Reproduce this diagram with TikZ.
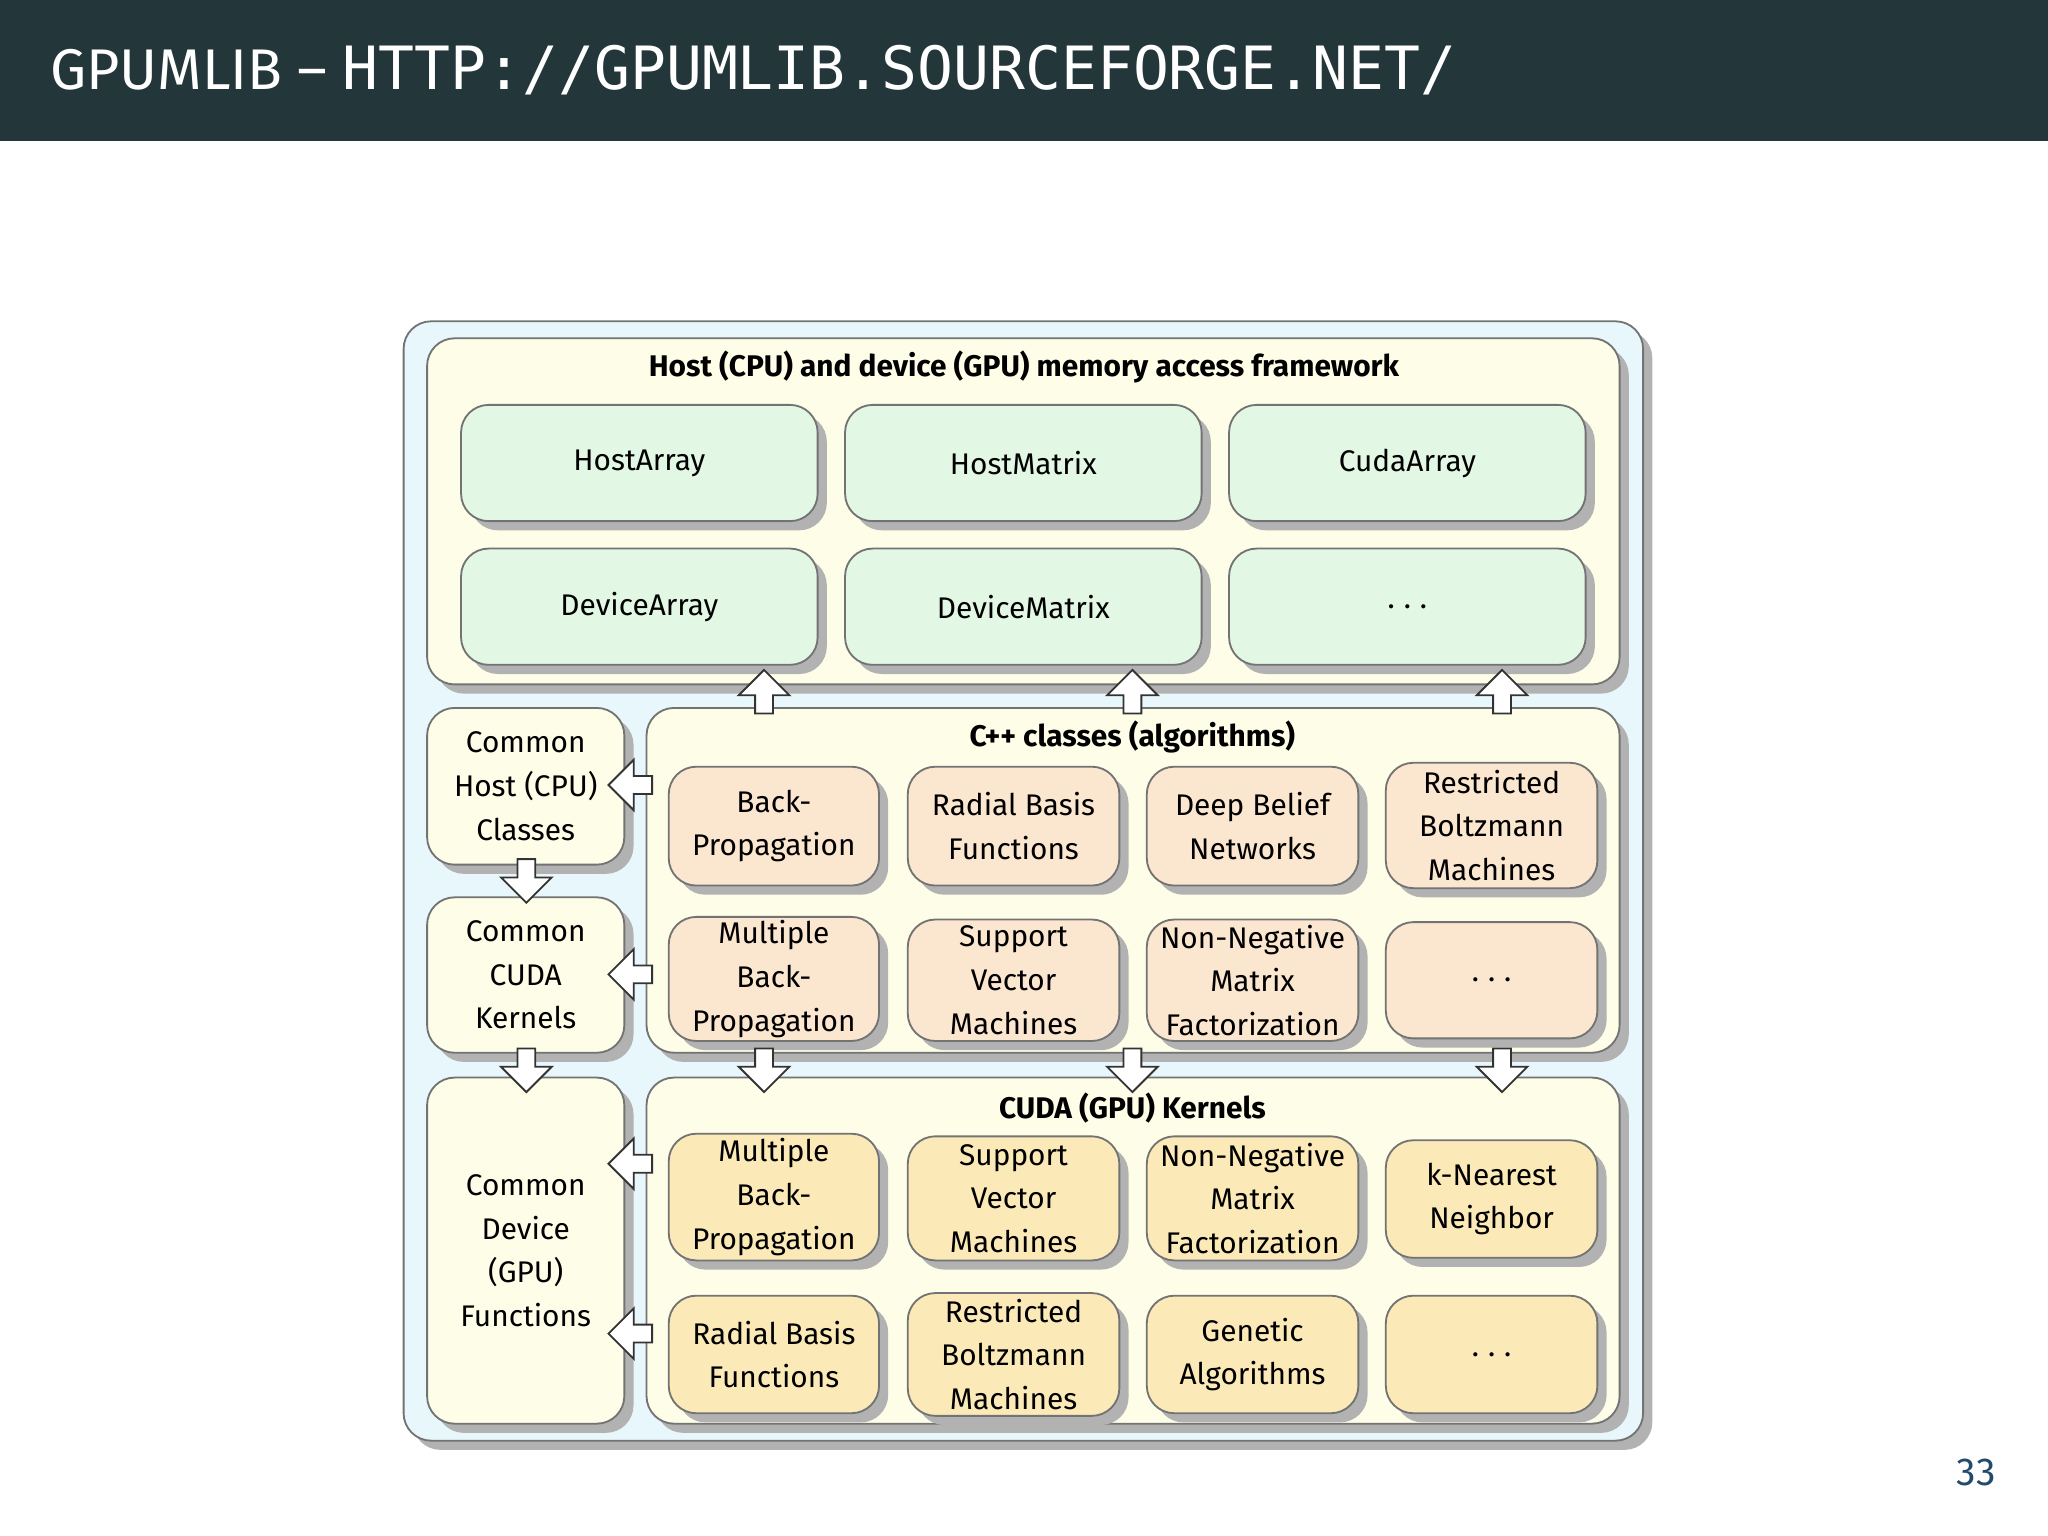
\documentclass[tikz,border=0pt]{standalone}
\usepackage{fontspec}
\setmainfont{Fira Sans}
\newfontfamily\monofont{DejaVu Sans Mono}
\usetikzlibrary{shadows,shapes.arrows}
\definecolor{hdr}{HTML}{23373B}
\definecolor{outerf}{HTML}{E8F7FB}
\definecolor{outerd}{HTML}{8AA6B3}
\definecolor{panel}{HTML}{FDFDE8}
\definecolor{grn}{HTML}{E3F8E4}
\definecolor{org}{HTML}{FBE6D0}
\definecolor{yel}{HTML}{FBEAB8}
\definecolor{pgnum}{HTML}{23496B}
\tikzset{
  box/.style={rounded corners=12pt,draw=black!55,line width=0.8pt,
    drop shadow={shadow xshift=4pt,shadow yshift=-4pt,fill=black!30,opacity=1}},
  lbl/.style={font=\fontsize{13}{19}\selectfont,align=center},
  ttl/.style={font=\fontsize{13}{16}\selectfont\bfseries},
  barrow/.style={single arrow,draw=black!80,fill=white,line width=0.8pt,
    minimum height=19pt,minimum width=20pt,inner xsep=0pt,inner ysep=3.5pt,
    text height=0pt,text depth=0pt,text width=0pt},
}
% draw a box with corners given in pixel coordinates
\newcommand{\pbox}[6]{%
  \node[box,fill=#5,minimum width={(#3-#1)*0.02cm},minimum height={(#4-#2)*0.02cm},
    lbl] (#6) at ({(#1+#3)/2},{(#2+#4)/2}) {};}
\newcommand{\dotsx}{.\hspace{0.3em}.\hspace{0.3em}.}
\begin{document}
\begin{tikzpicture}[x=0.02cm,y=-0.02cm]
\useasboundingbox (0,0) rectangle (1568,1176);
\fill[hdr] (0,0) rectangle (1568,108);
\node[anchor=west,text=white,inner sep=0] (title) at (38,54)
  {\fontsize{25}{28}\selectfont GPUMLIB -- {\monofont\fontsize{26}{28}\selectfont HTTP://GPUMLIB.SOURCEFORGE.NET/}};
\node[text=pgnum,font=\fontsize{17}{20}\selectfont] (pg) at (1513,1127) {33};

\pbox{309}{246}{1258}{1103}{outerf}{outer}
\pbox{327}{259}{1240}{524}{panel}{host}
\node[ttl] (hostt) at (784,281) {Host (CPU) and device (GPU) memory access framework};
\pbox{353}{310}{626}{399}{grn}{g1}\node[lbl] at (g1) {HostArray};
\pbox{647}{310}{920}{399}{grn}{g2}\node[lbl] at (g2) {HostMatrix};
\pbox{941}{310}{1214}{399}{grn}{g3}\node[lbl] at (g3) {CudaArray};
\pbox{353}{420}{626}{509}{grn}{g4}\node[lbl] at (g4) {DeviceArray};
\pbox{647}{420}{920}{509}{grn}{g5}\node[lbl] at (g5) {DeviceMatrix};
\pbox{941}{420}{1214}{509}{grn}{g6}\node[lbl] at (g6) {\dotsx};

\pbox{327}{542}{478}{662}{panel}{ch}\node[lbl] at (ch) {Common\\Host (CPU)\\Classes};
\pbox{327}{687}{478}{806}{panel}{ck}\node[lbl] at (ck) {Common\\CUDA\\Kernels};
\pbox{327}{825}{478}{1090}{panel}{cd}\node[lbl] at (cd) {Common\\Device\\(GPU)\\Functions};

\pbox{495}{542}{1240}{806}{panel}{cpp}
\node[ttl] (cppt) at (867,564) {C++ classes (algorithms)};
\pbox{512}{587}{673}{678}{org}{o1}\node[lbl] at (o1) {Back-\\Propagation};
\pbox{695}{587}{857}{678}{org}{o2}\node[lbl] at (o2) {Radial Basis\\Functions};
\pbox{878}{587}{1040}{678}{org}{o3}\node[lbl] at (o3) {Deep Belief\\Networks};
\pbox{1061}{584}{1223}{680}{org}{o4}\node[lbl] at (o4) {Restricted\\Boltzmann\\Machines};
\pbox{512}{702}{673}{797}{org}{o5}\node[lbl] at (o5) {Multiple\\Back-\\Propagation};
\pbox{695}{704}{857}{797}{org}{o6}\node[lbl] at (o6) {Support\\Vector\\Machines};
\pbox{878}{704}{1040}{797}{org}{o7}\node[lbl] at (o7) {Non-Negative\\Matrix\\Factorization};
\pbox{1061}{706}{1223}{795}{org}{o8}\node[lbl] at (o8) {\dotsx};

\pbox{495}{825}{1240}{1090}{panel}{cuda}
\node[ttl] (cudat) at (867,848) {CUDA (GPU) Kernels};
\pbox{512}{868}{673}{965}{yel}{y1}\node[lbl] at (y1) {Multiple\\Back-\\Propagation};
\pbox{695}{870}{857}{965}{yel}{y2}\node[lbl] at (y2) {Support\\Vector\\Machines};
\pbox{878}{870}{1040}{965}{yel}{y3}\node[lbl] at (y3) {Non-Negative\\Matrix\\Factorization};
\pbox{1061}{873}{1223}{963}{yel}{y4}\node[lbl] at (y4) {k-Nearest\\Neighbor};
\pbox{512}{992}{673}{1082}{yel}{y5}\node[lbl] at (y5) {Radial Basis\\Functions};
\pbox{695}{990}{857}{1084}{yel}{y6}\node[lbl] at (y6) {Restricted\\Boltzmann\\Machines};
\pbox{878}{992}{1040}{1082}{yel}{y7}\node[lbl] at (y7) {Genetic\\Algorithms};
\pbox{1061}{992}{1223}{1082}{yel}{y8}\node[lbl] at (y8) {\dotsx};

% block arrows
\foreach \x [count=\i] in {585,867,1150} {
  \node[barrow,rotate=90] (u\i) at (\x,533) {};
  \node[barrow,rotate=-90] (d\i) at (\x,816) {};
}
\node[barrow,rotate=-90] (dl1) at (403,671) {};
\node[barrow,rotate=-90] (dl2) at (403,816) {};
\foreach \y [count=\i] in {601,746,891,1021}
  \node[barrow,rotate=180] (l\i) at (486,\y) {};
\end{tikzpicture}
\end{document}
